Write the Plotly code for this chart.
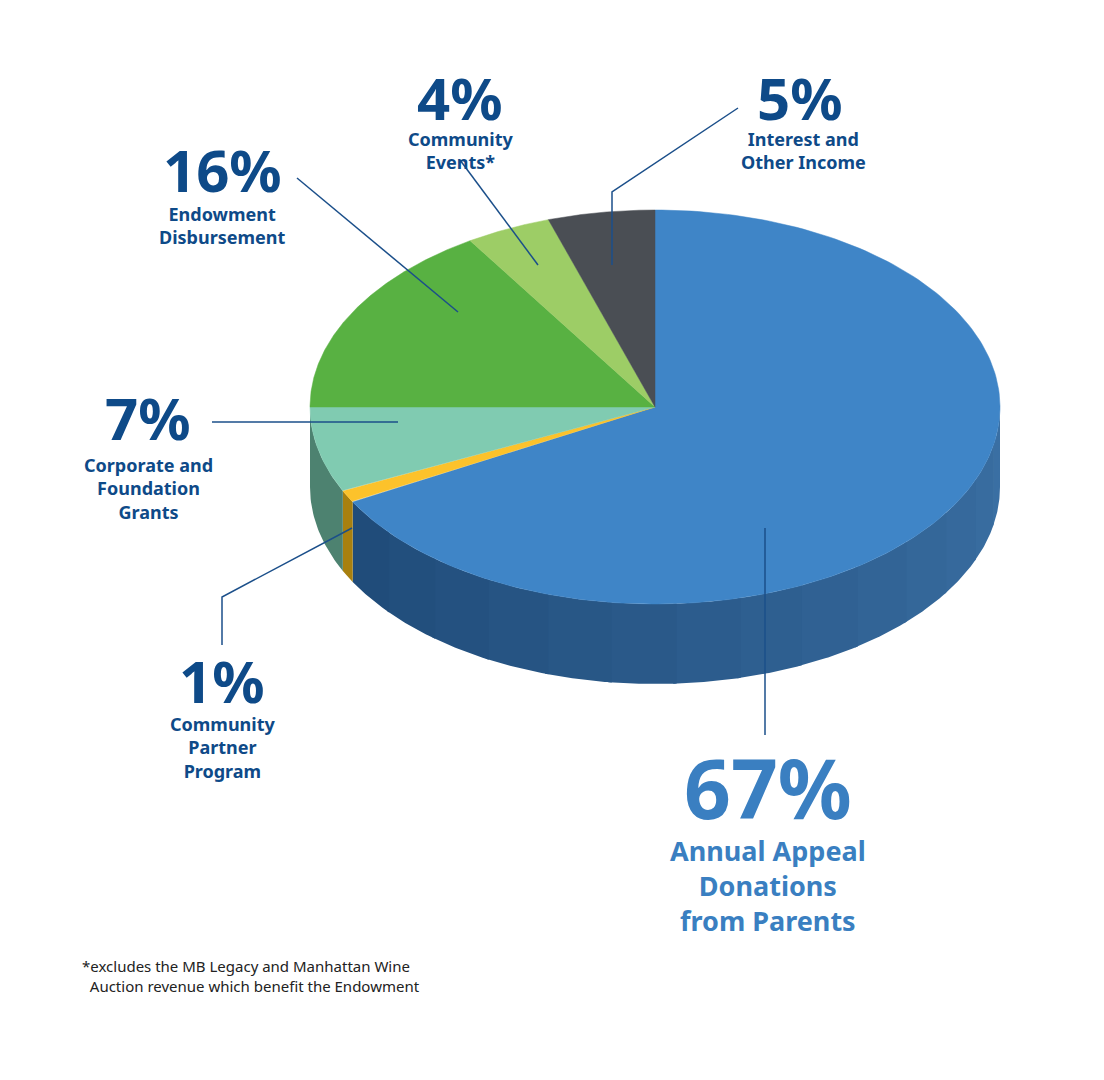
import numpy as np
import plotly.graph_objects as go

labels = ["Annual Appeal Donations from Parents", "Community Partner Program",
          "Corporate and Foundation Grants", "Endowment Disbursement",
          "Community Events*", "Interest and Other Income"]
values = [67, 1, 7, 16, 4, 5]
top_colors = ["#3f85c7", "#fcc22b", "#80cbb1", "#58b142", "#9dcd66", "#4a4e54"]
side_colors = ["#2b5f91", "#a8800f", "#4d8270", "#3a7a2c", "#6b9040", "#2e3236"]

cx, cy, rx, ry, depth = 655, 407, 345, 197, 80

def pt(t):
    return cx + rx * np.sin(t), cy - ry * np.cos(t)

fig = go.Figure()
cum = np.concatenate([[0], np.cumsum(values)]) / sum(values) * 2 * np.pi

def blend(c1, c2, f):
    a = [int(c1[i:i+2], 16) for i in (1, 3, 5)]
    b = [int(c2[i:i+2], 16) for i in (1, 3, 5)]
    return "#%02x%02x%02x" % tuple(int(a[k] + (b[k] - a[k]) * f) for k in range(3))

for i in range(len(values)):
    a0, a1 = max(cum[i], np.pi / 2), min(cum[i + 1], 3 * np.pi / 2)
    if a1 <= a0:
        continue
    nseg = 14 if i == 0 else 1
    edges = np.linspace(a0, a1, nseg + 1)
    for k in range(nseg):
        t = np.linspace(edges[k], edges[k + 1] + (0.01 if k < nseg - 1 else 0), 30)
        x, y = pt(t)
        xs = np.concatenate([x, x[::-1]])
        ys = np.concatenate([y, (y + depth)[::-1]])
        col = blend("#3a6fa3", "#1f4a77", (edges[k] - a0) / (a1 - a0)) if i == 0 else side_colors[i]
        fig.add_trace(go.Scatter(x=xs, y=ys, fill="toself", mode="lines",
                                 line=dict(width=0), fillcolor=col,
                                 hoverinfo="skip", showlegend=False))

for i in range(len(values)):
    t = np.linspace(cum[i], cum[i + 1], 200)
    x, y = pt(t)
    xs = np.concatenate([[cx], x, [cx]])
    ys = np.concatenate([[cy], y, [cy]])
    fig.add_trace(go.Scatter(x=xs, y=ys, fill="toself", mode="lines",
                             line=dict(width=0.5, color=top_colors[i]),
                             fillcolor=top_colors[i], name=labels[i],
                             hoverinfo="name", showlegend=False))

navy = "#0e4a88"
lc = "#1b4f8a"
lines = [
    [(738, 108), (612, 192), (612, 265)],
    [(460, 160), (538, 265)],
    [(297, 178), (458, 312)],
    [(212, 422), (398, 422)],
    [(222, 645), (222, 597), (352, 528)],
    [(765, 528), (765, 735)],
]
for ln in lines:
    path = "M " + " L ".join(f"{x},{y}" for x, y in ln)
    fig.add_shape(type="path", path=path, xref="x", yref="y",
                  line=dict(color=lc, width=1.5))

F = "Noto Sans"
anns = [
    (800, 97, "5%", 58, navy), (803, 150, "Interest and<br>Other Income", 18, navy),
    (460, 97, "4%", 58, navy), (460, 150, "Community<br>Events*", 18, navy),
    (222, 169, "16%", 58, navy), (222, 225, "Endowment<br>Disbursement", 18, navy),
    (148, 417, "7%", 58, navy), (148, 488, "Corporate and<br>Foundation<br>Grants", 18, navy),
    (222, 680, "1%", 58, navy), (222, 747, "Community<br>Partner<br>Program", 18, navy),
    (768, 787, "67%", 82, "#3a7fc1"), (768, 885, "Annual Appeal<br>Donations<br>from Parents", 27, "#3a7fc1"),
]
for x, y, txt, sz, col in anns:
    fig.add_annotation(x=x, y=y, xref="x", yref="y", text=f"<b>{txt}</b>",
                       showarrow=False, font=dict(family=F, size=sz, color=col),
                       xanchor="center", yanchor="middle")
fig.add_annotation(x=80, y=976, xref="x", yref="y", align="left",
                   text="*excludes the MB Legacy and Manhattan Wine<br>  Auction revenue which benefit the Endowment",
                   showarrow=False, font=dict(family=F, size=15, color="#222222"),
                   xanchor="left", yanchor="middle")

fig.update_xaxes(range=[8, 1112], visible=False)
fig.update_yaxes(range=[1088, 8], visible=False)
fig.update_layout(width=1104, height=1080, autosize=False,
                  margin=dict(l=0, r=0, t=0, b=0),
                  paper_bgcolor="white", plot_bgcolor="white")
fig.write_html("out.html")
